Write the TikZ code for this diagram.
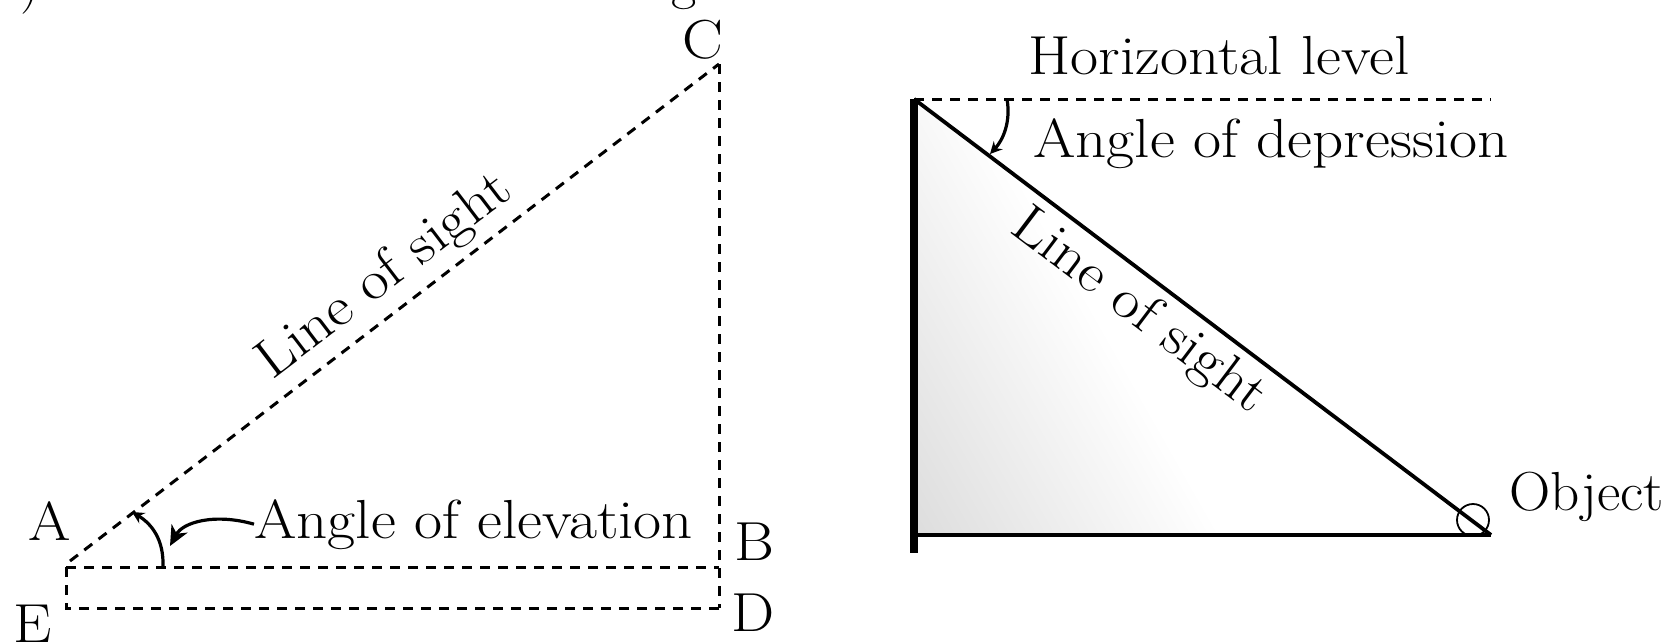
\documentclass[tikz,border=0pt]{standalone}
\usepackage{graphicx}
\usetikzlibrary{arrows.meta}
\newcommand\widetxt[1]{\scalebox{1.11}[1]{#1}}
\begin{document}
\begin{tikzpicture}[x=0.5pt,y=-0.5pt,
  lbl/.style={font=\fontsize{27.5}{32}\selectfont, inner sep=0pt},
  dsh/.style={line width=1.5pt, dash pattern=on 5pt off 4pt},
  sol/.style={line width=1.9pt},
  bigtip/.style={-{Stealth[length=10pt,width=9pt,inset=3pt]}},
  smalltip/.style={-{Stealth[length=6pt,width=6pt,inset=2pt]}}]
\useasboundingbox (0,0) rectangle (1666,643);
% cut-off text fragments at top
\node[lbl, anchor=base] (frag1) at (30,0) {)};
\node[lbl, anchor=base] (frag2) at (684,-2) {g};
% ---------- left figure ----------
\coordinate (A) at (70,561);
\coordinate (A0) at (66,567);
\coordinate (B) at (719,567);
\coordinate (C) at (719,64);
\coordinate (D) at (719,608);
\coordinate (E) at (66,608);
\draw[dsh] (C) -- (D);
\draw[dsh] (A0) -- (B);
\draw[dsh] (A0) -- (E) -- (D);
\draw[dsh] (A) -- (C);
\node[lbl] (lC) at (703,40) {\widetxt{C}};
\node[lbl] (lA) at (50,521) {\widetxt{A}};
\node[lbl] (lB) at (754,542) {\widetxt{B}};
\node[lbl] (lD) at (753,613) {\widetxt{D}};
\node[lbl] (lE) at (33,624) {\widetxt{E}};
\node[lbl, rotate=37.3] (los1) at (385,277) {\widetxt{Line of sight}};
\node[lbl, anchor=base west] (elev) at (254,538) {\widetxt{Angle of elevation}};
\coordinate (arcS) at (163,567);
\coordinate (arcE) at (132,512);
\draw[line width=1.6pt, smalltip] (arcS) .. controls (164,540) and (152,524) .. (arcE);
\coordinate (elevTip) at (170,546);
\draw[line width=1.6pt, bigtip] (elev.west) .. controls (215,513) and (183,522) .. (elevTip);
% ---------- right figure ----------
\coordinate (P) at (914,99);
\coordinate (Q) at (914,553);
\coordinate (R) at (914,535);
\coordinate (O) at (1491,535);
\coordinate (H) at (1491,99);
\coordinate (F) at (1222,535);
\begin{scope}
  \clip (R) -- (P) -- (O) -- cycle;
  \begin{scope}[transform canvas={rotate around={-60.4:(F)}}]
    \shade[top color=white, bottom color=black!14]
      ([shift={(-900,0)}]F) rectangle ([shift={(900,280)}]F);
  \end{scope}
\end{scope}
\draw[sol] (P) -- (O);
\draw[sol] (R) -- (O);
\draw[line width=3.8pt] (P) -- (Q);
\draw[dsh] (P) -- (H);
\node[draw, circle, line width=0.9pt, minimum size=16pt, inner sep=0pt] (obj) at (1473,520) {};
\node[lbl, anchor=base west] (objL) at (1509,510) {\scalebox{1.04}[1]{Object}};
\node[lbl, anchor=base west] (hor) at (1028,74) {\widetxt{Horizontal level}};
\node[lbl, anchor=base west] (dep) at (1033,157) {\widetxt{Angle of depression}};
\node[lbl, rotate=-37.07] (los2) at (1138,312) {\widetxt{Line of sight}};
\coordinate (dS) at (1007,99);
\coordinate (dE) at (990,154);
\draw[line width=1.6pt, smalltip] (dS) .. controls (1011,122) and (1003,140) .. (dE);
\end{tikzpicture}
\end{document}
